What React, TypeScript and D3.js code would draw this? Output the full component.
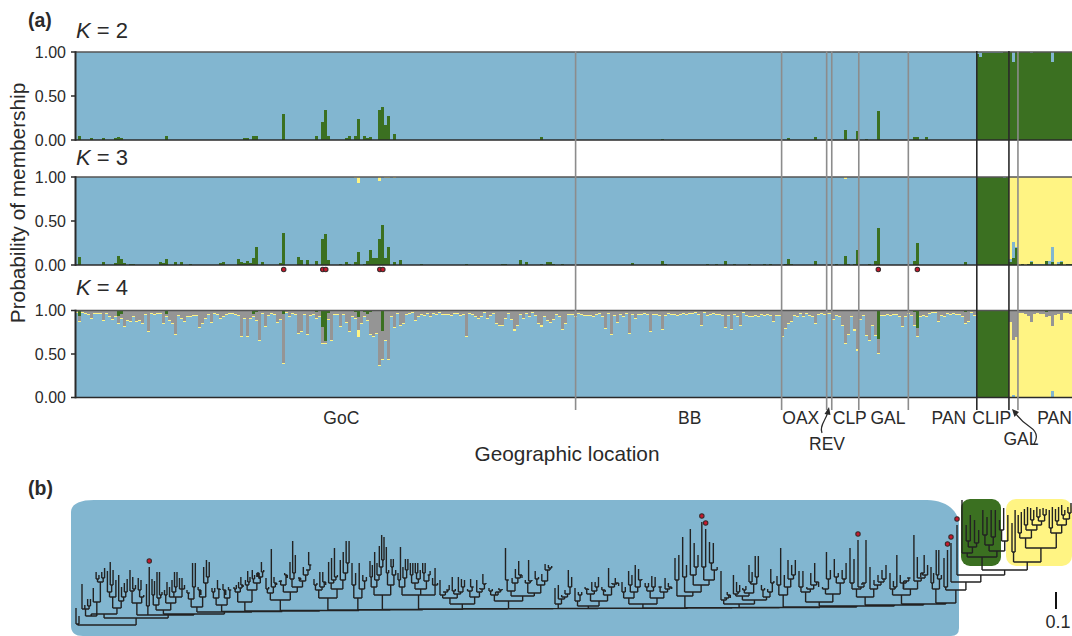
import React from "react";
import * as d3 from "d3";

const BLUE = "#82b6d0", GREEN = "#3b7021", YELLOW = "#fff483", GREY = "#959595", INK = "#2a2a2a";
const FONT = "'Liberation Sans', Arial, sans-serif";

const sampleCount = 332;
const clipStart = 300;
const panStart = 311;

// sample groups: right edges in sample index, with the separator line shade
const groupEdges = [166.7, 235.3, 250.3, 252, 261, 277.5, 300.3, 311, 314];
const groupEdgeDark = [false, false, false, false, false, false, true, true, false];
const groupLabels = ["GoC", "BB", "OAX", "CLP", "GAL", "PAN", "CLIP", "PAN"];
const groupLabelSamples = [88.7, 204.7, 241.7, 258, 270.7, 291, 305.3, 326.2];

const k2Green = [[1,.05],[5,.02],[9,.02],[13,.02],[14,.03],[15,.02],[30,.05],[56,.02],[57,.025],[59,.05],[60,.04],[69,.3],[80,.04],[82,.2],[83,.34],[84,.04],[90,.02],[91,.04],[93,.04],[94,.24],[96,.05],[97,.02],[98,.03],[101,.34],[102,.37],[103,.17],[104,.27],[106,.07],[155,.03],[195,.015],[237,.02],[246,.03],[256,.115],[260,.1],[263,.01],[267,.335],[279,.03],[280,.03],[283,.03]];
const k2ClipPanBlue = [[300,.02],[301,.06],[302,.012],[303,.012],[304,.012],[305,.012],[306,.012],[307,.012],[308,.012],[312,.11],[318,.012],[325,.11]];

const k3Green = [[1,.095],[9,.03],[13,.02],[14,.1],[15,.07],[16,.02],[18,.015],[19,.015],[28,.03],[29,.02],[30,.065],[33,.035],[35,.03],[38,.015],[48,.02],[49,.03],[54,.065],[55,.03],[56,.02],[57,.04],[58,.02],[59,.075],[60,.21],[62,.03],[68,.02],[69,.36],[74,.09],[75,.06],[77,.055],[80,.04],[82,.3],[83,.35],[84,.055],[88,.015],[90,.03],[91,.015],[93,.03],[94,.145],[96,.015],[97,.04],[98,.165],[99,.085],[100,.085],[101,.3],[102,.45],[103,.085],[104,.21],[106,.03],[108,.055],[115,.015],[130,.015],[142,.015],[143,.015],[148,.055],[150,.03],[155,.012],[157,.03],[158,.03],[159,.015],[162,.015],[185,.02],[195,.05],[196,.015],[210,.015],[213,.015],[216,.04],[219,.015],[224,.015],[229,.015],[231,.015],[236,.015],[237,.07],[238,.015],[246,.05],[253,.015],[256,.1],[257,.015],[259,.015],[260,.165],[264,.015],[266,.04],[267,.425],[279,.05],[280,.245],[296,.03]];
const k3Yellow = [[93,.012],[94,.065],[101,.05],[103,.012],[104,.012],[106,.012],[256,.025]];
const k3ClipBlue = [[309,.012]];
const k3PanGreen = [[311,.035],[312,.08],[313,.19],[315,.015],[317,.015],[318,.03],[323,.04],[325,.03],[327,.01],[328,.04],[330,.01],[331,.015]];
const k3PanBlue = [[311,.035],[312,.18],[313,.02],[318,.02],[319,.012],[320,.012],[321,.012],[322,.012],[324,.05],[325,.18],[327,.02],[328,.01]];

// K = 4: share of the bar that is not blue, percent, for every sample of the blue group
const k4NonBlueGoC = [3,13,3,4,5,10,4,4,4,12,4,8,11,7,15,10,19,12,13,7,13,12,16,5,25,4,5,4,4,15,7,12,15,28,6,10,13,8,8,6,6,20,15,10,5,14,4,5,10,7,5,4,4,5,6,30,10,30,10,7,12,35,4,19,6,4,5,14,11,62,3,8,4,5,27,25,5,28,6,5,10,8,39,38,11,35,5,5,19,5,14,25,8,10,30,15,7,12,28,30,27,64,57,35,57,8,20,4,18,16,5,4,3,12,7,5,6,4,8,4,5,3,5,5,5,6,4,4,6,5,31,4,5,7,10,7,3,10,6,4,16,18,18,10,4,11,23,18,5,10,4,7,3,6,15,19,8,12,14,11,5,8,22,15,5,5,8];
const k4NonBlueBB = [4,5,6,6,6,8,5,4,8,21,4,28,6,14,5,7,4,27,5,10,5,5,4,5,25,5,5,6,22,6,4,5,5,6,5,4,5,4,4,3,5,18,3,6,5,4,5,5,6,20,6,22,5,7,18,3,6];
const k4NonBlueRest = [7,7,6,7,5,6,5,6,13,6,6,30,21,16,13,6,8,4,8,4,6,7,16,5,4,5,4,4,11,6,7,18,39,28,7,23,46,11,6,29,35,18,29,50,6,6,5,6,5,5,8,19,7,4,6,18,30,7,6,8,4,3,3,13,6,7,4,5,4,5,5,7,16,13,3,6];
const k4NonBluePan = [13,34,31,3,3,4,6,13,4,3,4,4,7,6,18,5,4,11,3,3,4];
const k4Green = [[1,.06],[14,.065],[15,.035],[30,.045],[59,.04],[60,.02],[69,.045],[74,.01],[80,.015],[82,.19],[83,.345],[84,.03],[93,.015],[94,.08],[96,.015],[97,.04],[98,.02],[101,.01],[102,.24],[147,.01],[195,.01],[267,.325],[279,.02],[280,.2],[296,.015],[323,.015]];
const k4YellowWide = [[94,.08],[155,.02],[283,.018]];
const k4YellowThin = .012;
const k4ClipPanBlue = [[305,.01],[312,.03],[313,.01],[325,.07]];

const flaggedSamples = [69, 82, 83, 101, 102, 267, 280];

// Tree: [distance of node from root, ...children]; a number is a tip's distance from root,
// negative when the tip carries a red marker. 17 units = 0.1 substitutions per site.
const cladeStartPx = [76, 82, 130, 152, 187, 212, 234, 266, 314, 352, 370, 398, 440, 489, 555, 575, 622, 675, 721, 777, 799, 850, 890];
const spineDistances = [0, 7, 10, 11, 13, 13.5, 14, 14.5, 15, 15.3, 15.6, 16, 16.2, 16.4, 16.6, 16.8, 17, 17.2, 17.5, 18, 19, 20, 21];
const blueClades: any[] = [
  [1,17,9],
  [11,[9,[16,41,20,[19,26,26]],[23,37,[43,[46,53,50],[47,53,57]]]],[17,[28,[33,54,[40,63,55]],45],[24,50,[28,38,[33,42,46]]]]],
  [10,[22,[34,55,[36,48,40]],[28,[35,47,45],30]],[19,41,-58]],
  [15,[20,[30,46,44],[27,53,[30,53,33]]],[22,[30,35,43],[28,38,[33,45,[38,53,53]],[36,47,47,40]]]],
  [18,[26,[32,35,32],[38,62,62]],[28,[35,38,30],[42,58,[48,65,63]]]],
  [20,[27,[33,37,37],[36,45,35]],[27,[35,41,30],[35,38,35]]],
  [23,[33,[36,38,40],[37,43,[40,48,38]]],[35,[40,45,[43,54,48]],[42,[46,55,50],[48,[52,48,46],[53,63,55]]]]],
  [25,[32,[36,47,38],[38,76,[42,48,40]]],[33,[40,[44,43,44],[50,52,47]],[38,[46,63,[52,84,70]],[44,[47,47,45],[50,58,[55,55,[60,73,60]]]]]]],
  [21,[27,[35,[40,46,42],[38,53,[43,53,40]]],[36,[42,63,[45,67,[48,77,50]]],[45,65,[52,73,[62,84,84]]]]]],
  [27,[40,62,52],[36,62,[44,50,48]]],
  [30,[38,[48,64,60],[45,73,[50,62,[58,79,[65,90,88]]]]],[40,[52,78,55],[50,[58,66,66],55]]],
  [30,[38,[45,52,78],[47,58,[55,66,66]]],[36,[42,[50,62,62],[46,[52,62,62],55]],[44,[52,62,62],[50,50,54]]],[40,47,57,42]],
  [21,[27,[30,45,[33,33,[35,35,40]]],[31,[34,48,36],[33,48,[38,46,45]]]],[28,[34,36,[38,46,38]],[33,45,[36,37,[41,51,42]]]]],
  [24,[30,[34,37,36],[33,30,[35,37,36]]],[29,[34,[45,77,45],[42,47,[47,56,[50,64,47]]]],[32,[42,45,[44,65,45]],[40,[46,54,48],[44,51,[55,61,[57,60,59]]]]]]],
  [21,37,[26,40,[28,30,[31,35,[38,55,48]]]]],
  [19,[24,37,[30,33,33]],[24,[31,[36,38,35],[34,43,[38,43,48]]],[30,[35,38,33],[38,57,[41,42,[42,47,39]]]]]],
  [21,[27,[33,43,38],[33,[40,54,50],[38,60,[45,56,46]]]],[27,[34,[38,42,42],[38,49,48]],[33,[38,38,38],[36,47,[38,42,36]]]]],
  [29,[45,67,70],[33,[48,88,60],[40,[50,96,[58,82,70]],[45,[58,-103,-96],[55,[62,83,82],58]]]]],
  [21,[25,54,[27,27,[30,33,27]]],[25,[29,[31,50,[33,43,40]],[32,[35,37,39],[41,[43,60,53],[48,69,69]]]],[28,[35,40,37],[33,36,[42,56,44]]]]],
  [30,[40,49,77],[38,50,[46,65,[50,60,65]]]],
  [23,[33,[38,54,54],[36,38,[40,52,[43,62,38]]]],[31,[36,38,[46,73,55]],[42,[48,66,52],[46,55,62]]]],
  [28,[36,[42,77,66],[38,-85,[42,40,85]]],[36,58,[40,45,[43,50,[46,55,60]]]]],
  [30,[36,52,[38,44,70]],[36,[42,50,[44,37,[47,47,47]]],[44,90,[47,68,[50,[52,48,70],60]]]]],
];
const greenClade = [68,[72,125,[78,[84,100,110],[82,105,95]]],[74,[80,[90,115,108],[88,115,115]],[84,[95,105,117],110]]];
const yellowClade = [63,[73,102,115],[77,[87,[92,110,113],[95,[100,116,118],[100,[105,117,115],[104,[108,118,116],[110,117,116]]]]],[92,[97,115,118],[100,[104,116,118],[106,[110,120,115],[112,118,122]]]]]];
const tailClade = [22,[36,[42,58,52],[46,[50,75,75],50]],[35,[38,67,-75],[43,-82,[50,-100,[55,greenClade,yellowClade]]]]];
const tailStartPx = [931, 944, 951, 957, 962, 1012, 1071];
const tailStartLeafOffset = [0, 5, 7, 8, 9, 21, 40];

const xSample = d3.scaleLinear().domain([0, sampleCount]).range([75, 1072]);

const sparse = (pairs: number[][]) => {
  const a = new Array(sampleCount).fill(0);
  pairs.forEach(([i, v]) => { a[i] = v; });
  return a;
};
const samples = d3.range(sampleCount);

// K = 2 rows
const k2G = sparse(k2Green), k2B = sparse(k2ClipPanBlue);
const k2Rows = samples.map((i) => i < clipStart
  ? { green: k2G[i], blue: 1 - k2G[i] }
  : { green: 1 - k2B[i], blue: k2B[i] });

// K = 3 rows
const k3G = sparse(k3Green), k3Y = sparse(k3Yellow), k3CB = sparse(k3ClipBlue), k3PG = sparse(k3PanGreen), k3PB = sparse(k3PanBlue);
const k3Rows = samples.map((i) => {
  if (i < clipStart) return { green: k3G[i], blue: 1 - k3G[i] - k3Y[i], yellow: k3Y[i] };
  if (i < panStart) return { green: 1 - k3CB[i], blue: k3CB[i], yellow: 0 };
  return { green: k3PG[i], blue: k3PB[i], yellow: 1 - k3PG[i] - k3PB[i] };
});

// K = 4 rows
const k4NB = [...k4NonBlueGoC, ...k4NonBlueBB, ...k4NonBlueRest];
const k4G = sparse(k4Green), k4YW = sparse(k4YellowWide), k4B = sparse(k4ClipPanBlue);
const k4Rows = samples.map((i) => {
  if (i < clipStart) {
    const nb = (k4NB[i] ?? 4) / 100;
    const y = k4YW[i] || k4YellowThin;
    return { blue: 1 - nb, yellow: y, grey: Math.max(0, nb - y - k4G[i]), green: k4G[i] };
  }
  if (i < panStart) return { blue: k4B[i], yellow: 0, grey: 0, green: 1 - k4B[i] };
  const nb = k4NonBluePan[i - panStart] / 100;
  return { blue: k4B[i], yellow: 1 - nb - k4B[i], grey: nb - k4G[i], green: k4G[i] };
});

const colorOf: Record<string, string> = { blue: BLUE, green: GREEN, yellow: YELLOW, grey: GREY };
const yTicks = [0, 0.5, 1];

const panels = [
  { label: "2", labelY: 38, rows: k2Rows, keys: ["green", "blue"], y: d3.scaleLinear().domain([0, 1]).range([140, 52]) },
  { label: "3", labelY: 165, rows: k3Rows, keys: ["green", "blue", "yellow"], y: d3.scaleLinear().domain([0, 1]).range([265, 177]) },
  { label: "4", labelY: 295, rows: k4Rows, keys: ["blue", "yellow", "grey", "green"], y: d3.scaleLinear().domain([0, 1]).range([397.5, 310.5]) },
];

// ---- tree layout ----
const isNode = (d: any) => Array.isArray(d);
const countLeaves = (d: any): number => isNode(d) ? d.slice(1).reduce((s: number, c: any) => s + countLeaves(c), 0) : 1;
const treeData = blueClades.reduceRight((rest, clade, i) => [spineDistances[i], clade, rest], tailClade as any);

const anchorsDomain: number[] = [];
const anchorsRange: number[] = [];
let seen = 0;
blueClades.forEach((c, i) => { anchorsDomain.push(seen); anchorsRange.push(cladeStartPx[i]); seen += countLeaves(c); });
const tailLeaves = countLeaves(tailClade);
tailStartPx.forEach((px, i) => {
  const off = i === tailStartPx.length - 1 ? tailLeaves - 1 : tailStartLeafOffset[i];
  anchorsDomain.push(seen + off); anchorsRange.push(px);
});
const xLeaf = d3.scaleLinear().domain(anchorsDomain).range(anchorsRange);
const yDist = d3.scaleLinear().domain([0, 125]).range([625, 500]);

const root: any = d3.hierarchy(treeData, (d: any) => isNode(d) ? d.slice(1) : null);
const distOf = (n: any) => Math.abs(isNode(n.data) ? n.data[0] : n.data);
root.leaves().forEach((l: any, i: number) => { l.px = xLeaf(i); });
root.eachAfter((n: any) => {
  if (n.children) n.px = (n.children[0].px + n.children[n.children.length - 1].px) / 2;
});
const treePath = d3.path();
root.each((n: any) => {
  if (!n.children) return;
  const y0 = yDist(distOf(n));
  treePath.moveTo(n.children[0].px, y0);
  treePath.lineTo(n.children[n.children.length - 1].px, y0);
  n.children.forEach((c: any) => {
    treePath.moveTo(c.px, y0);
    treePath.lineTo(c.px, yDist(distOf(c)));
  });
});
const flaggedTips = root.leaves().filter((l: any) => l.data < 0);

const Dot = ({ cx, cy }: { cx: number; cy: number }) => (
  <circle cx={cx} cy={cy} r={2.2} fill="#c8182c" stroke="#3a2a2a" strokeWidth={1.1} />
);

export default function App() {
  const txt = { fontFamily: FONT, fill: INK } as const;
  return (
    <svg width={1072} height={636} style={{ position: "absolute", left: 0, top: 0, display: "block", background: "#fff" }}>
      <text x={28} y={27} fontSize={19.5} fontWeight="bold" {...txt}>(a)</text>
      <text x={28} y={495} fontSize={19.5} fontWeight="bold" {...txt}>(b)</text>

      {panels.map((p) => {
        const series = d3.stack<any>().keys(p.keys)(p.rows as any);
        return (
          <g key={p.label}>
            <text x={76} y={p.labelY} fontSize={22} {...txt}><tspan fontStyle="italic">K</tspan> = {p.label}</text>
            <g shapeRendering="crispEdges">
              {series.map((s) => s.map((d, i) => (d[1] - d[0] > 0.0005 ? (
                <rect key={s.key + i} x={xSample(i)} width={xSample(i + 1) - xSample(i)}
                  y={p.y(d[1])} height={Math.max(0.9, p.y(d[0]) - p.y(d[1]))} fill={colorOf[s.key]} />
              ) : null)))}
            </g>
            <line x1={75} x2={1072} y1={p.y(1)} y2={p.y(1)} stroke="#555" strokeWidth={1.6} />
            <line x1={75} x2={1072} y1={p.y(0)} y2={p.y(0)} stroke={INK} strokeWidth={1.6} />
            <line x1={75.5} x2={75.5} y1={p.y(1) - 0.8} y2={p.y(0) + 0.8} stroke={INK} strokeWidth={2} />
            {yTicks.map((t) => (
              <g key={t}>
                <line x1={71} x2={75} y1={p.y(t)} y2={p.y(t)} stroke={INK} strokeWidth={1.5} />
                <text x={66} y={p.y(t) + 5.5} fontSize={16} textAnchor="end" {...txt}>{t.toFixed(2)}</text>
              </g>
            ))}
          </g>
        );
      })}

      {groupEdges.map((g, i) => (
        <line key={i} x1={xSample(g)} x2={xSample(g)} y1={51} y2={410}
          stroke={groupEdgeDark[i] ? INK : "#8c8c8c"} strokeWidth={1.6} />
      ))}

      {flaggedSamples.map((i) => <Dot key={i} cx={xSample(i + 0.5)} cy={269.5} />)}

      {groupLabels.map((l, i) => (
        <text key={i} x={xSample(groupLabelSamples[i])} y={424} fontSize={17.5} textAnchor="middle" {...txt}>{l}</text>
      ))}
      <text x={827} y={450} fontSize={17.5} textAnchor="middle" {...txt}>REV</text>
      <text x={1021} y={445} fontSize={17.5} textAnchor="middle" {...txt}>GAL</text>
      <path d="M822,433 C819,426 826,420 827.5,413" fill="none" stroke={INK} strokeWidth={1.2} />
      <path d="M829,407 L824.5,414 L830.5,415 Z" fill={INK} />
      <path d="M1034,444 C1039,436 1036,431 1030,427 C1024,423 1019,418 1015,413" fill="none" stroke={INK} strokeWidth={1.2} />
      <path d="M1012,409 L1019,412 L1014.5,417 Z" fill={INK} />
      <text x={567} y={461} fontSize={20.8} textAnchor="middle" {...txt}>Geographic location</text>
      <text transform="translate(25,203) rotate(-90)" fontSize={20.8} textAnchor="middle" {...txt}>Probability of membership</text>

      <path d="M71,512 C71,504 80,500 94,500 L927,500 C945,500 959,510 959,525 L959,628 Q959,636 951,636 L83,636 Q71,636 71,626 Z" fill={BLUE} />
      <rect x={961} y={499} width={40} height={67} rx={9} fill={GREEN} />
      <rect x={1006} y={499} width={66} height={67} rx={10} fill={YELLOW} />
      <path d={treePath.toString()} fill="none" stroke="#222" strokeWidth={1.4} />
      {flaggedTips.map((l: any, i: number) => <Dot key={i} cx={l.px} cy={yDist(distOf(l)) - 6} />)}

      <line x1={1056} x2={1056} y1={592} y2={609} stroke="#111" strokeWidth={2} />
      <text x={1058} y={628} fontSize={18} textAnchor="middle" {...txt}>0.1</text>
    </svg>
  );
}
